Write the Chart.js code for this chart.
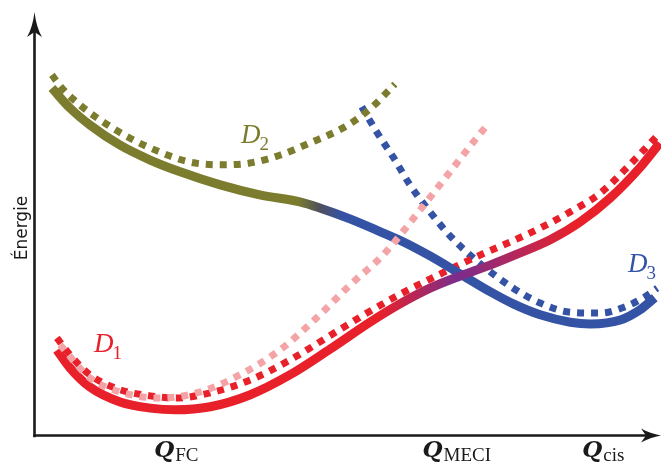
<!DOCTYPE html>
<html><head><meta charset="utf-8">
<script src="https://cdn.jsdelivr.net/npm/chart.js@4.4.0/dist/chart.umd.min.js"></script>
<style>html,body{margin:0;padding:0;background:#fff;overflow:hidden}</style>
</head><body>
<canvas id="c" width="661" height="465" style="width:661px;height:465px;display:block"></canvas>
<script>
// ---- data (arbitrary units: x = reaction coordinate 0..100, y = energy 0..100) ----
const upperAdiabatic = [[2.7,79.8],[5.6,75.2],[8.8,71.3],[13.6,66.7],[18.4,63.3],[23.2,60.6],[29.6,57.6],[35.9,55.3],[42.3,53.7],[45.5,52.3],[50.3,49.8],[55.1,46.9],[58.3,44.9],[63.1,41.3],[67.9,37.2],[72.7,33.1],[76.4,30.3],[80.7,27.8],[85.5,26.1],[88.7,25.7],[93.5,26.6],[96.6,28.9],[99.0,31.7]];
const lowerAdiabatic = [[3.5,19.7],[5.6,15.6],[8.8,11.2],[13.6,7.8],[18.4,6.4],[22.4,6.0],[28.0,6.7],[34.3,9.4],[40.7,14.0],[47.1,19.9],[53.5,26.1],[58.3,30.3],[63.1,33.9],[67.9,36.7],[72.7,39.2],[77.0,41.7],[82.3,45.0],[87.1,49.1],[91.9,54.6],[96.6,61.5],[99.8,67.2]];
const diabaticD1 = [[3.5,22.5],[5.6,18.6],[8.8,14.0],[13.6,10.6],[18.4,9.2],[22.4,8.7],[28.0,9.9],[34.3,12.8],[40.7,17.4],[47.1,23.0],[53.5,28.6],[58.8,32.9],[63.1,36.0],[67.4,39.0],[71.1,41.5],[75.9,44.5],[80.7,47.7],[85.5,51.4],[90.3,55.7],[95.0,62.2],[99.8,69.5]];
const diabaticD2 = [[2.7,82.8],[4.3,79.8],[7.2,75.9],[10.4,72.5],[15.2,68.3],[20.0,65.1],[24.8,62.8],[29.6,62.2],[34.3,62.6],[39.1,64.4],[43.9,67.2],[49.5,70.9],[53.5,75.0],[57.5,80.7]];
const diabaticD3 = [[52.2,75.5],[54.6,69.7],[57.2,64.0],[59.9,57.6],[63.1,51.4],[66.3,45.9],[70.8,39.9],[76.4,33.9],[80.7,30.5],[85.5,28.4],[90.3,28.2],[94.2,29.6],[97.4,31.9],[99.4,33.9]];
const diabaticD1b = [[4.0,20.9],[8.8,13.3],[13.6,10.1],[20.0,8.7],[26.4,10.1],[32.7,14.0],[39.1,19.7],[45.5,27.8],[50.3,34.6],[55.6,41.5],[61.5,51.8],[66.3,60.6],[70.4,68.1],[72.4,71.6]];
const stateLabels = ['1','2','3'];
const xTickValues = [22.5, 67.3, 90.7];
const xTickSubs = ['FC','MECI','cis'];

const OLIVE='#7c7c2e', BLUE='#3553a5', RED='#e8202a', PINK='#f4a3a6', PURPLE='#7a2d8c';
const pts = a => a.map(p => ({x:p[0], y:p[1]}));

function gradient(ctx, stops){
  const chart = ctx.chart; const area = chart.chartArea;
  if(!area) return stops[0][1];
  const xs = chart.scales.x;
  const g = chart.ctx.createLinearGradient(area.left,0,area.right,0);
  stops.forEach(s=>{
    const f = Math.min(1,Math.max(0,(xs.getPixelForValue(s[0])-area.left)/(area.right-area.left)));
    g.addColorStop(f,s[1]);
  });
  return g;
}

const common = {pointRadius:0,cubicInterpolationMode:'monotone',fill:false,clip:false,borderCapStyle:'butt'};
const dotted = (data,color) => Object.assign({data:pts(data),borderColor:color,borderWidth:7,borderDash:[7,7]},common);

const axisPlugin = {
  id:'axes',
  afterDraw(chart){
    const c = chart.ctx; const a = chart.chartArea; const xs = chart.scales.x;
    c.save();
    c.strokeStyle='#1a1a1a'; c.fillStyle='#1a1a1a'; c.lineWidth=2.6;
    c.beginPath(); c.moveTo(a.left-0.5, a.bottom+1.2); c.lineTo(a.left-0.5, 30); c.stroke();
    c.beginPath(); c.moveTo(a.left-1.8, a.bottom-0.5); c.lineTo(648, a.bottom-0.5); c.stroke();
    const ax = a.left-0.5;
    c.beginPath(); c.moveTo(ax,12); c.quadraticCurveTo(ax+2,28,ax+7.5,37); c.lineTo(ax,32); c.lineTo(ax-7.5,37); c.quadraticCurveTo(ax-2,28,ax,12); c.fill();
    const ay = a.bottom-0.5;
    c.beginPath(); c.moveTo(661,ay); c.quadraticCurveTo(650,ay+2,641,ay+7); c.lineTo(646,ay); c.lineTo(641,ay-7); c.quadraticCurveTo(650,ay-2,661,ay); c.fill();
    c.save(); c.translate(27,228); c.rotate(-Math.PI/2);
    c.font='17px "DejaVu Sans"'; c.textAlign='center'; c.textBaseline='alphabetic';
    c.fillText('Énergie',0,0); c.restore();
    xTickValues.forEach((v,i)=>{
      c.font='bold italic 23px "DejaVu Serif"'; const wq=c.measureText('Q').width;
      c.font='19px "Liberation Serif"'; const ws=c.measureText(xTickSubs[i]).width;
      const cx = xs.getPixelForValue(v); const x0 = cx-(wq+ws)/2;
      c.textAlign='left';
      c.font='bold italic 23px "DejaVu Serif"'; c.fillText('Q',x0,457);
      c.font='19px "Liberation Serif"'; c.fillText(xTickSubs[i],x0+wq+1,461);
    });
    const lab=(sub,x,y,col)=>{
      c.fillStyle=col; c.textAlign='left';
      c.font='italic 27px "Liberation Serif"'; c.fillText('D',x,y);
      const w=c.measureText('D').width;
      c.font='19px "Liberation Serif"'; c.fillText(sub,x+w-1,y+7);
    };
    lab(stateLabels[0],94,352,RED);
    lab(stateLabels[1],241,143,OLIVE);
    lab(stateLabels[2],628,272,BLUE);
    c.restore();
  }
};

new Chart(document.getElementById('c'),{
  type:'line',
  data:{datasets:[
    dotted(diabaticD1b,PINK),
    Object.assign({data:pts(lowerAdiabatic),borderWidth:9,
      borderColor:ctx=>gradient(ctx,[[0,RED],[55,RED],[67.5,PURPLE],[77,'#b5285a'],[86,RED],[100,RED]])},common),
    Object.assign({data:pts(upperAdiabatic),borderWidth:9,
      borderColor:ctx=>gradient(ctx,[[0,OLIVE],[42,OLIVE],[45.5,'#4f4f5c'],[49,BLUE],[100,BLUE]])},common),
    dotted(diabaticD1,RED),
    dotted(diabaticD2,OLIVE),
    dotted(diabaticD3,BLUE)
  ]},
  options:{
    responsive:false, animation:false, devicePixelRatio:1,
    layout:{padding:{left:35,right:0,top:0,bottom:29}},
    plugins:{legend:{display:false},tooltip:{enabled:false}},
    scales:{
      x:{type:'linear',min:0,max:100,display:false},
      y:{type:'linear',min:0,max:100,display:false}
    }
  },
  plugins:[axisPlugin]
});
</script>
</body></html>
